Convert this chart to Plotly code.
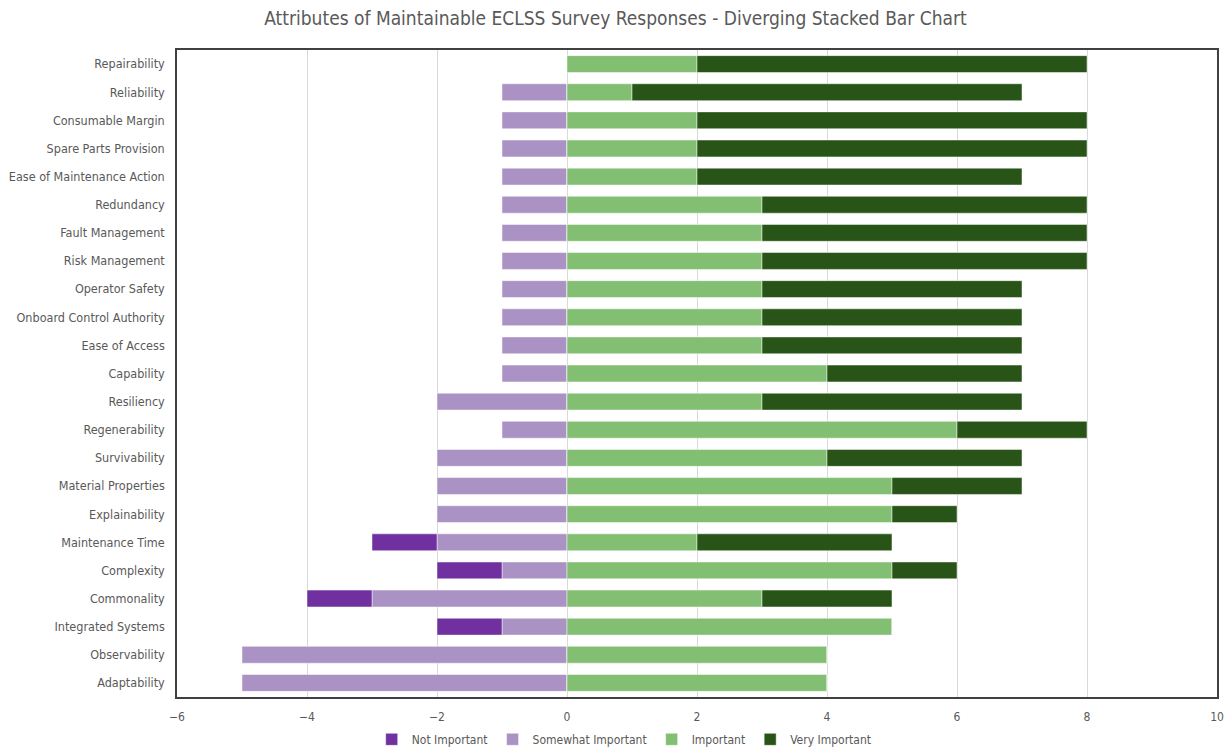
import plotly.graph_objects as go

attributes = [
    "Repairability", "Reliability", "Consumable Margin", "Spare Parts Provision",
    "Ease of Maintenance Action", "Redundancy", "Fault Management", "Risk Management",
    "Operator Safety", "Onboard Control Authority", "Ease of Access", "Capability",
    "Resiliency", "Regenerability", "Survivability", "Material Properties",
    "Explainability", "Maintenance Time", "Complexity", "Commonality",
    "Integrated Systems", "Observability", "Adaptability",
]
not_important = [0, 0, 0, 0, 0, 0, 0, 0, 0, 0, 0, 0, 0, 0, 0, 0, 0, -1, -1, -1, -1, 0, 0]
somewhat_important = [0, -1, -1, -1, -1, -1, -1, -1, -1, -1, -1, -1, -2, -1, -2, -2, -2, -2, -1, -3, -1, -5, -5]
important = [2, 1, 2, 2, 2, 3, 3, 3, 3, 3, 3, 4, 3, 6, 4, 5, 5, 2, 5, 3, 5, 4, 4]
very_important = [6, 6, 6, 6, 5, 5, 5, 5, 4, 4, 4, 3, 4, 2, 3, 2, 1, 3, 1, 2, 0, 0, 0]
x_ticks = [-6, -4, -2, 0, 2, 4, 6, 8, 10]

FONT = "DejaVu Sans Condensed, Liberation Sans Narrow, Arial Narrow, sans-serif"
TEXT = "#595959"

series = [
    # negative stacks grow outward from zero in trace order
    ("Somewhat Important", somewhat_important, "#AB92C4", 2),
    ("Not Important", not_important, "#7030A0", 1),
    ("Important", important, "#82BF72", 3),
    ("Very Important", very_important, "#285418", 4),
]

fig = go.Figure()
for name, vals, color, rank in series:
    fig.add_trace(go.Bar(
        name=name, y=attributes, x=vals, orientation="h",
        marker=dict(color=color, line=dict(color="rgba(255,255,255,0.6)", width=0.8)),
        legendrank=rank,
    ))

fig.update_layout(
    barmode="relative",
    bargap=0.4,
    width=1231, height=748,
    margin=dict(l=177, r=14, t=50, b=51, autoexpand=False),
    paper_bgcolor="white", plot_bgcolor="white",
    font=dict(family=FONT, size=12, color=TEXT),
    title=dict(
        text="Attributes of Maintainable ECLSS Survey Responses - Diverging Stacked Bar Chart",
        x=0.5, xanchor="center", y=0.975, yanchor="middle",
        font=dict(family=FONT, size=19, color=TEXT),
    ),
    legend=dict(
        orientation="h", x=0.43, xanchor="center",
        y=-0.043, yanchor="top",
        font=dict(family=FONT, size=12, color=TEXT), traceorder="normal",
        itemwidth=30, tracegroupgap=0,
    ),
    xaxis=dict(
        range=[-6, 10], tickvals=x_ticks, showgrid=True, gridcolor="#D9D9D9",
        gridwidth=1, zeroline=False, showline=True, linecolor="#404040",
        linewidth=1.5, mirror=True, ticks="outside", ticklen=8, tickcolor="white",
        tickfont=dict(size=12, color=TEXT),
    ),
    yaxis=dict(
        autorange="reversed", showline=True, linecolor="#404040", linewidth=1.5,
        mirror=True, ticks="outside", ticklen=8, tickcolor="white",
        tickfont=dict(size=12.5, color=TEXT),
    ),
)

fig.write_html("out.html")
